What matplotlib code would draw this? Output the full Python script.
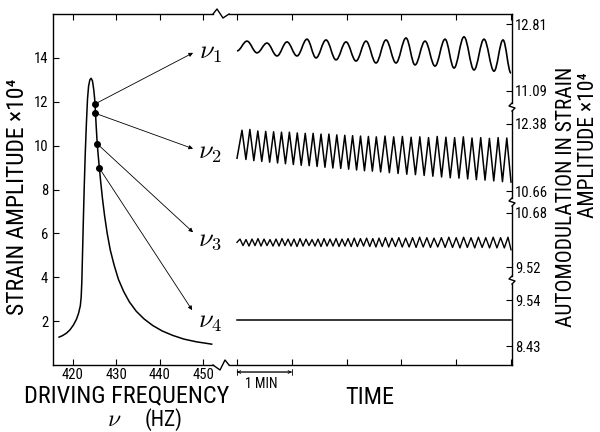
import matplotlib
matplotlib.use("Agg")
import matplotlib.pyplot as plt
from matplotlib import font_manager as fm
from matplotlib.path import Path
from matplotlib.patches import PathPatch
from matplotlib.lines import Line2D

# look for a narrow sans face, the lettering in the original is condensed
narrow = None
for f in fm.fontManager.ttflist:
    if f.style != 'normal' or f.weight not in (400, 'normal', 'regular'):
        continue
    if 'Sans' not in f.name and 'Roboto' not in f.name:
        continue
    if 'Mono' in f.name or 'Serif' in f.name:
        continue
    if 'Narrow' in f.name or 'Condensed' in f.name or f.stretch in ('condensed', 'semi-condensed'):
        narrow = f
        if 'Liberation' in f.name:
            break
if narrow is not None:
    plt.rcParams['font.family'] = [narrow.name, 'DejaVu Sans']
    plt.rcParams['font.stretch'] = narrow.stretch
    SC = 1.0
else:
    plt.rcParams['font.family'] = ['Liberation Sans', 'DejaVu Sans']
    SC = 0.86
plt.rcParams['mathtext.fontset'] = 'cm'

W, H = 600, 432


def fx(x):
    return x / W


def fy(y):
    return 1 - y / H


# --- resonance curve (left panel) ---
freq = [416.8, 417.6, 418.5, 419.3, 420.1, 420.8, 421.3, 421.7, 421.9, 422.05,
        422.2, 422.4, 422.6, 422.85, 423.1, 423.35, 423.6, 423.9, 424.2, 424.5,
        424.8, 425.0, 425.1, 425.2, 425.4, 425.6, 425.85, 426.1, 426.4, 426.8,
        427.3, 427.9, 428.6, 429.5, 430.5, 431.7, 433.0, 434.6, 436.4, 438.4,
        440.6, 443.0, 445.6, 448.4, 452.0]
amp = [1.27, 1.34, 1.45, 1.6, 1.82, 2.08, 2.36, 2.7, 3.1, 3.8,
       5.0, 6.6, 8.1, 9.7, 11.0, 12.1, 12.7, 13.0, 13.07, 12.95,
       12.55, 12.15, 11.9, 11.47, 10.75, 10.08, 9.5, 8.97, 8.35, 7.6,
       6.8, 6.0, 5.25, 4.55, 3.9, 3.35, 2.88, 2.45, 2.1, 1.8,
       1.55, 1.35, 1.18, 1.06, 0.95]

dot_freq = [425.1, 425.2, 425.6, 426.1]
dot_amp = [11.9, 11.47, 10.08, 8.97]
tip_freq = [447.7, 447.7, 447.7, 447.5]
tip_amp = [14.23, 9.86, 6.05, 2.5]
nu_labels = [r'$\nu_1$', r'$\nu_2$', r'$\nu_3$', r'$\nu_4$']
nu_amp = [14.2, 9.68, 5.68, 1.95]

# --- automodulation traces (time in minutes) ---
nu1_peak_t = [0.182, 0.547, 0.912, 1.277, 1.624, 1.989, 2.354, 2.719, 3.084,
              3.431, 3.796, 4.142, 4.507, 4.854]
nu1_peak_v = [12.37, 12.32, 12.35, 12.42, 12.40, 12.35, 12.37, 12.40, 12.45,
              12.37, 12.42, 12.48, 12.42, 12.40]
nu1_trough_t = [0.365, 0.730, 1.095, 1.442, 1.807, 2.172, 2.536, 2.901, 3.248,
                3.613, 3.960, 4.325, 4.690, 5.0]
nu1_trough_v = [12.07, 11.99, 11.99, 11.94, 11.89, 11.86, 11.81, 11.81, 11.76,
                11.73, 11.68, 11.63, 11.60, 11.55]
nu1_start = (0.0, 12.12)

nu2_peak_t = [0.091, 0.235, 0.380, 0.524, 0.668, 0.812, 0.956, 1.100, 1.245,
              1.389, 1.533, 1.677, 1.821, 1.967, 2.109, 2.254, 2.398, 2.542,
              2.701, 2.859, 3.018, 3.177, 3.336, 3.495, 3.653, 3.812, 3.971,
              4.130, 4.288, 4.447, 4.606, 4.765, 4.923]
nu2_peak_v = [12.22, 12.24, 12.20, 12.19, 12.18, 12.17, 12.17, 12.15, 12.14,
              12.14, 12.12, 12.12, 12.10, 12.09, 12.08, 12.07, 12.06, 12.05,
              12.07, 12.05, 12.06, 12.04, 12.05, 12.03, 12.06, 12.04, 12.03,
              12.05, 12.02, 12.03, 12.01, 12.03, 12.02]
nu2_trough_t = [0.163, 0.307, 0.452, 0.596, 0.740, 0.884, 1.028, 1.172, 1.317,
                1.461, 1.605, 1.749, 1.893, 2.037, 2.182, 2.326, 2.470, 2.621,
                2.780, 2.939, 3.098, 3.256, 3.415, 3.574, 3.733, 3.891, 4.050,
                4.209, 4.368, 4.526, 4.685, 4.844, 5.0]
nu2_trough_v = [11.47, 11.44, 11.42, 11.40, 11.38, 11.36, 11.34, 11.32, 11.31,
                11.29, 11.27, 11.25, 11.24, 11.22, 11.20, 11.18, 11.17, 11.15,
                11.13, 11.11, 11.09, 11.08, 11.06, 11.04, 11.02, 11.00, 10.99,
                10.97, 10.95, 10.94, 10.92, 10.90, 10.89]
nu2_start = (0.0, 11.50)

nu3_peak_t = [0.055, 0.164, 0.274, 0.383, 0.493, 0.602, 0.712, 0.821, 0.931,
              1.040, 1.150, 1.259, 1.369, 1.478, 1.588, 1.697, 1.807, 1.916,
              2.026, 2.139, 2.252, 2.365, 2.478, 2.591, 2.708, 2.828, 2.953,
              3.077, 3.204, 3.332, 3.464, 3.595, 3.730, 3.865, 4.000, 4.135,
              4.270, 4.405, 4.540, 4.675, 4.810, 4.945]
nu3_peak_v = [10.12, 10.11, 10.12, 10.13, 10.12, 10.11, 10.12, 10.13, 10.12,
              10.12, 10.13, 10.12, 10.11, 10.12, 10.13, 10.12, 10.13, 10.12,
              10.13, 10.14, 10.13, 10.14, 10.13, 10.14, 10.15, 10.14, 10.15,
              10.14, 10.15, 10.16, 10.15, 10.14, 10.15, 10.16, 10.15, 10.16,
              10.15, 10.16, 10.15, 10.16, 10.15, 10.16]
nu3_trough_t = [0.110, 0.219, 0.329, 0.438, 0.548, 0.657, 0.767, 0.876, 0.986,
                1.095, 1.205, 1.314, 1.424, 1.533, 1.643, 1.752, 1.862, 1.971,
                2.083, 2.196, 2.309, 2.422, 2.535, 2.650, 2.768, 2.891, 3.015,
                3.141, 3.268, 3.398, 3.530, 3.663, 3.798, 3.933, 4.068, 4.203,
                4.338, 4.473, 4.608, 4.743, 4.878, 5.0]
nu3_trough_v = [9.98, 9.97, 9.98, 9.97, 9.98, 9.97, 9.97, 9.98, 9.97,
                9.96, 9.97, 9.98, 9.97, 9.96, 9.97, 9.97, 9.96, 9.97,
                9.96, 9.96, 9.97, 9.96, 9.95, 9.96, 9.95, 9.96, 9.95,
                9.95, 9.94, 9.95, 9.94, 9.95, 9.94, 9.94, 9.93, 9.94,
                9.93, 9.94, 9.93, 9.93, 9.93, 9.89]
nu3_start = (0.0, 10.05)

nu4_t = [0.0, 5.0]
nu4_v = [9.06, 9.06]

# right-hand scale segments: (top px, bottom px, ylim, ticks)
segments = [
    (14, 107, (10.679, 13.067), [11.09, 12.81]),
    (107, 202, (10.378, 12.816), [10.66, 12.38]),
    (202, 280, (9.241, 10.916), [9.52, 10.68]),
    (280, 365, (7.972, 10.023), [8.43, 9.54]),
]
time_ticks = [0, 1, 2, 3, 4, 5]


def interleave(start, pt, pv, tt, tv):
    ts, vs = [start[0]], [start[1]]
    for a, b, c, d in zip(pt, pv, tt, tv):
        ts += [a, c]
        vs += [b, d]
    return ts, vs


def smooth_path(ts, vs):
    # cubic segments with flat tangents at every turning point
    verts = [(ts[0], vs[0])]
    codes = [Path.MOVETO]
    for i in range(1, len(ts)):
        dt = ts[i] - ts[i - 1]
        verts += [(ts[i - 1] + 0.37 * dt, vs[i - 1]), (ts[i] - 0.37 * dt, vs[i]), (ts[i], vs[i])]
        codes += [Path.CURVE4] * 3
    return Path(verts, codes)


fig = plt.figure(figsize=(6, 4.32), dpi=100)

# left panel
ax = fig.add_axes([fx(53), fy(365), fx(213) - fx(53), 351 / H])
ax.plot(freq, amp, color='black', lw=1.1)
ax.plot(dot_freq, dot_amp, 'o', color='black', ms=4)
for df, da, tf, ta in zip(dot_freq, dot_amp, tip_freq, tip_amp):
    ax.annotate('', xy=(tf, ta), xytext=(df, da),
                arrowprops=dict(arrowstyle='-|>', lw=0.6, color='black',
                                mutation_scale=6, shrinkA=0, shrinkB=0))
for lab, a in zip(nu_labels, nu_amp):
    ax.text(451.6, a, lab, fontsize=19, ha='center', va='center', clip_on=False)
ax.set_xlim(415.4, 452.3)
ax.set_ylim(0, 16)
ax.set_xticks([420, 430, 440, 450])
ax.set_yticks([2, 4, 6, 8, 10, 12, 14])
ax.spines['right'].set_visible(False)
for s in ['left', 'top', 'bottom']:
    ax.spines[s].set_linewidth(1.0)
ax.tick_params(direction='in', top=True, length=4, width=0.8, labelsize=10.5 * SC)
ax.tick_params(axis='x', pad=2)
ax.patch.set_alpha(0)

# time axis frame
axt = fig.add_axes([fx(229), fy(365), fx(512) - fx(229), 351 / H])
axt.set_xlim(-0.146, 5.018)
axt.set_ylim(0, 1)
axt.set_xticks(time_ticks)
axt.set_xticklabels([])
axt.set_yticks([])
for s in ['left', 'right']:
    axt.spines[s].set_visible(False)
for s in ['top', 'bottom']:
    axt.spines[s].set_linewidth(1.0)
axt.tick_params(direction='in', top=True, length=4, width=0.8)
axt.patch.set_alpha(0)

seg_axes = []
for top, bot, ylim, ticks in segments:
    a = fig.add_axes([fx(229), fy(bot), fx(512) - fx(229), (bot - top) / H])
    a.set_xlim(-0.146, 5.018)
    a.set_ylim(*ylim)
    a.patch.set_alpha(0)
    for s in ['left', 'top', 'bottom']:
        a.spines[s].set_visible(False)
    a.spines['right'].set_linewidth(1.0)
    px = (ylim[1] - ylim[0]) / (bot - top)
    lo = ylim[0] + (4 * px if bot < 365 else 0)
    hi = ylim[1] - (4 * px if top > 14 else 0)
    a.spines['right'].set_bounds(lo, hi)
    a.set_xticks([])
    a.set_yticks(ticks)
    a.set_yticklabels([f'{t:.2f}' for t in ticks])
    a.yaxis.tick_right()
    a.tick_params(direction='in', length=4, width=0.8, labelsize=10.5 * SC, pad=2)
    seg_axes.append(a)

t1, v1 = interleave(nu1_start, nu1_peak_t, nu1_peak_v, nu1_trough_t, nu1_trough_v)
seg_axes[0].add_patch(PathPatch(smooth_path(t1, v1), fill=False, lw=1.2,
                                edgecolor='black'))
t2, v2 = interleave(nu2_start, nu2_peak_t, nu2_peak_v, nu2_trough_t, nu2_trough_v)
seg_axes[1].plot(t2, v2, color='black', lw=1.1)
t3, v3 = interleave(nu3_start, nu3_peak_t, nu3_peak_v, nu3_trough_t, nu3_trough_v)
seg_axes[2].plot(t3, v3, color='black', lw=1.0)
seg_axes[3].plot(nu4_t, nu4_v, color='black', lw=1.1)


# axis breaks
def brk(xs, ys):
    fig.add_artist(Line2D([fx(x) for x in xs], [fy(y) for y in ys],
                          color='black', lw=1.0, transform=fig.transFigure))


brk([213, 217, 223, 229], [14, 9, 18, 14])
brk([213, 220, 225, 229], [365, 370, 360, 365])
for yb in [107, 202, 280]:
    brk([512, 509, 515, 512], [yb - 4, yb - 1, yb + 1, yb + 4])

# 1 MIN bar
for style, ms in [('<->', 5), ('|-|', 2.5)]:
    axt.annotate('', xy=(1, -0.02), xytext=(0, -0.02),
                 xycoords=('data', 'axes fraction'), textcoords=('data', 'axes fraction'),
                 arrowprops=dict(arrowstyle=style, lw=0.6, mutation_scale=ms,
                                 shrinkA=0, shrinkB=0))
fig.text(fx(261), fy(384), '1 MIN', fontsize=10 * SC, ha='center', va='center')

# labels
fig.text(fx(18), fy(197), 'STRAIN AMPLITUDE ×10⁴', rotation=90,
         ha='center', va='center', fontsize=17 * SC)
fig.text(fx(127), fy(396), 'DRIVING FREQUENCY', ha='center', va='center', fontsize=17.5 * SC)
fig.text(fx(114), fy(420), r'$\nu$', ha='center', va='center', fontsize=17)
fig.text(fx(164), fy(420), '(HZ)', ha='center', va='center', fontsize=15.5 * SC)
fig.text(fx(370), fy(398), 'TIME', ha='center', va='center', fontsize=17.5 * SC)
fig.text(fx(567), fy(197), 'AUTOMODULATION IN STRAIN', rotation=90,
         ha='center', va='center', fontsize=15.5 * SC)
fig.text(fx(589), fy(145), 'AMPLITUDE ×10⁴', rotation=90,
         ha='center', va='center', fontsize=15.5 * SC)

fig.savefig('out.png', dpi=100)
